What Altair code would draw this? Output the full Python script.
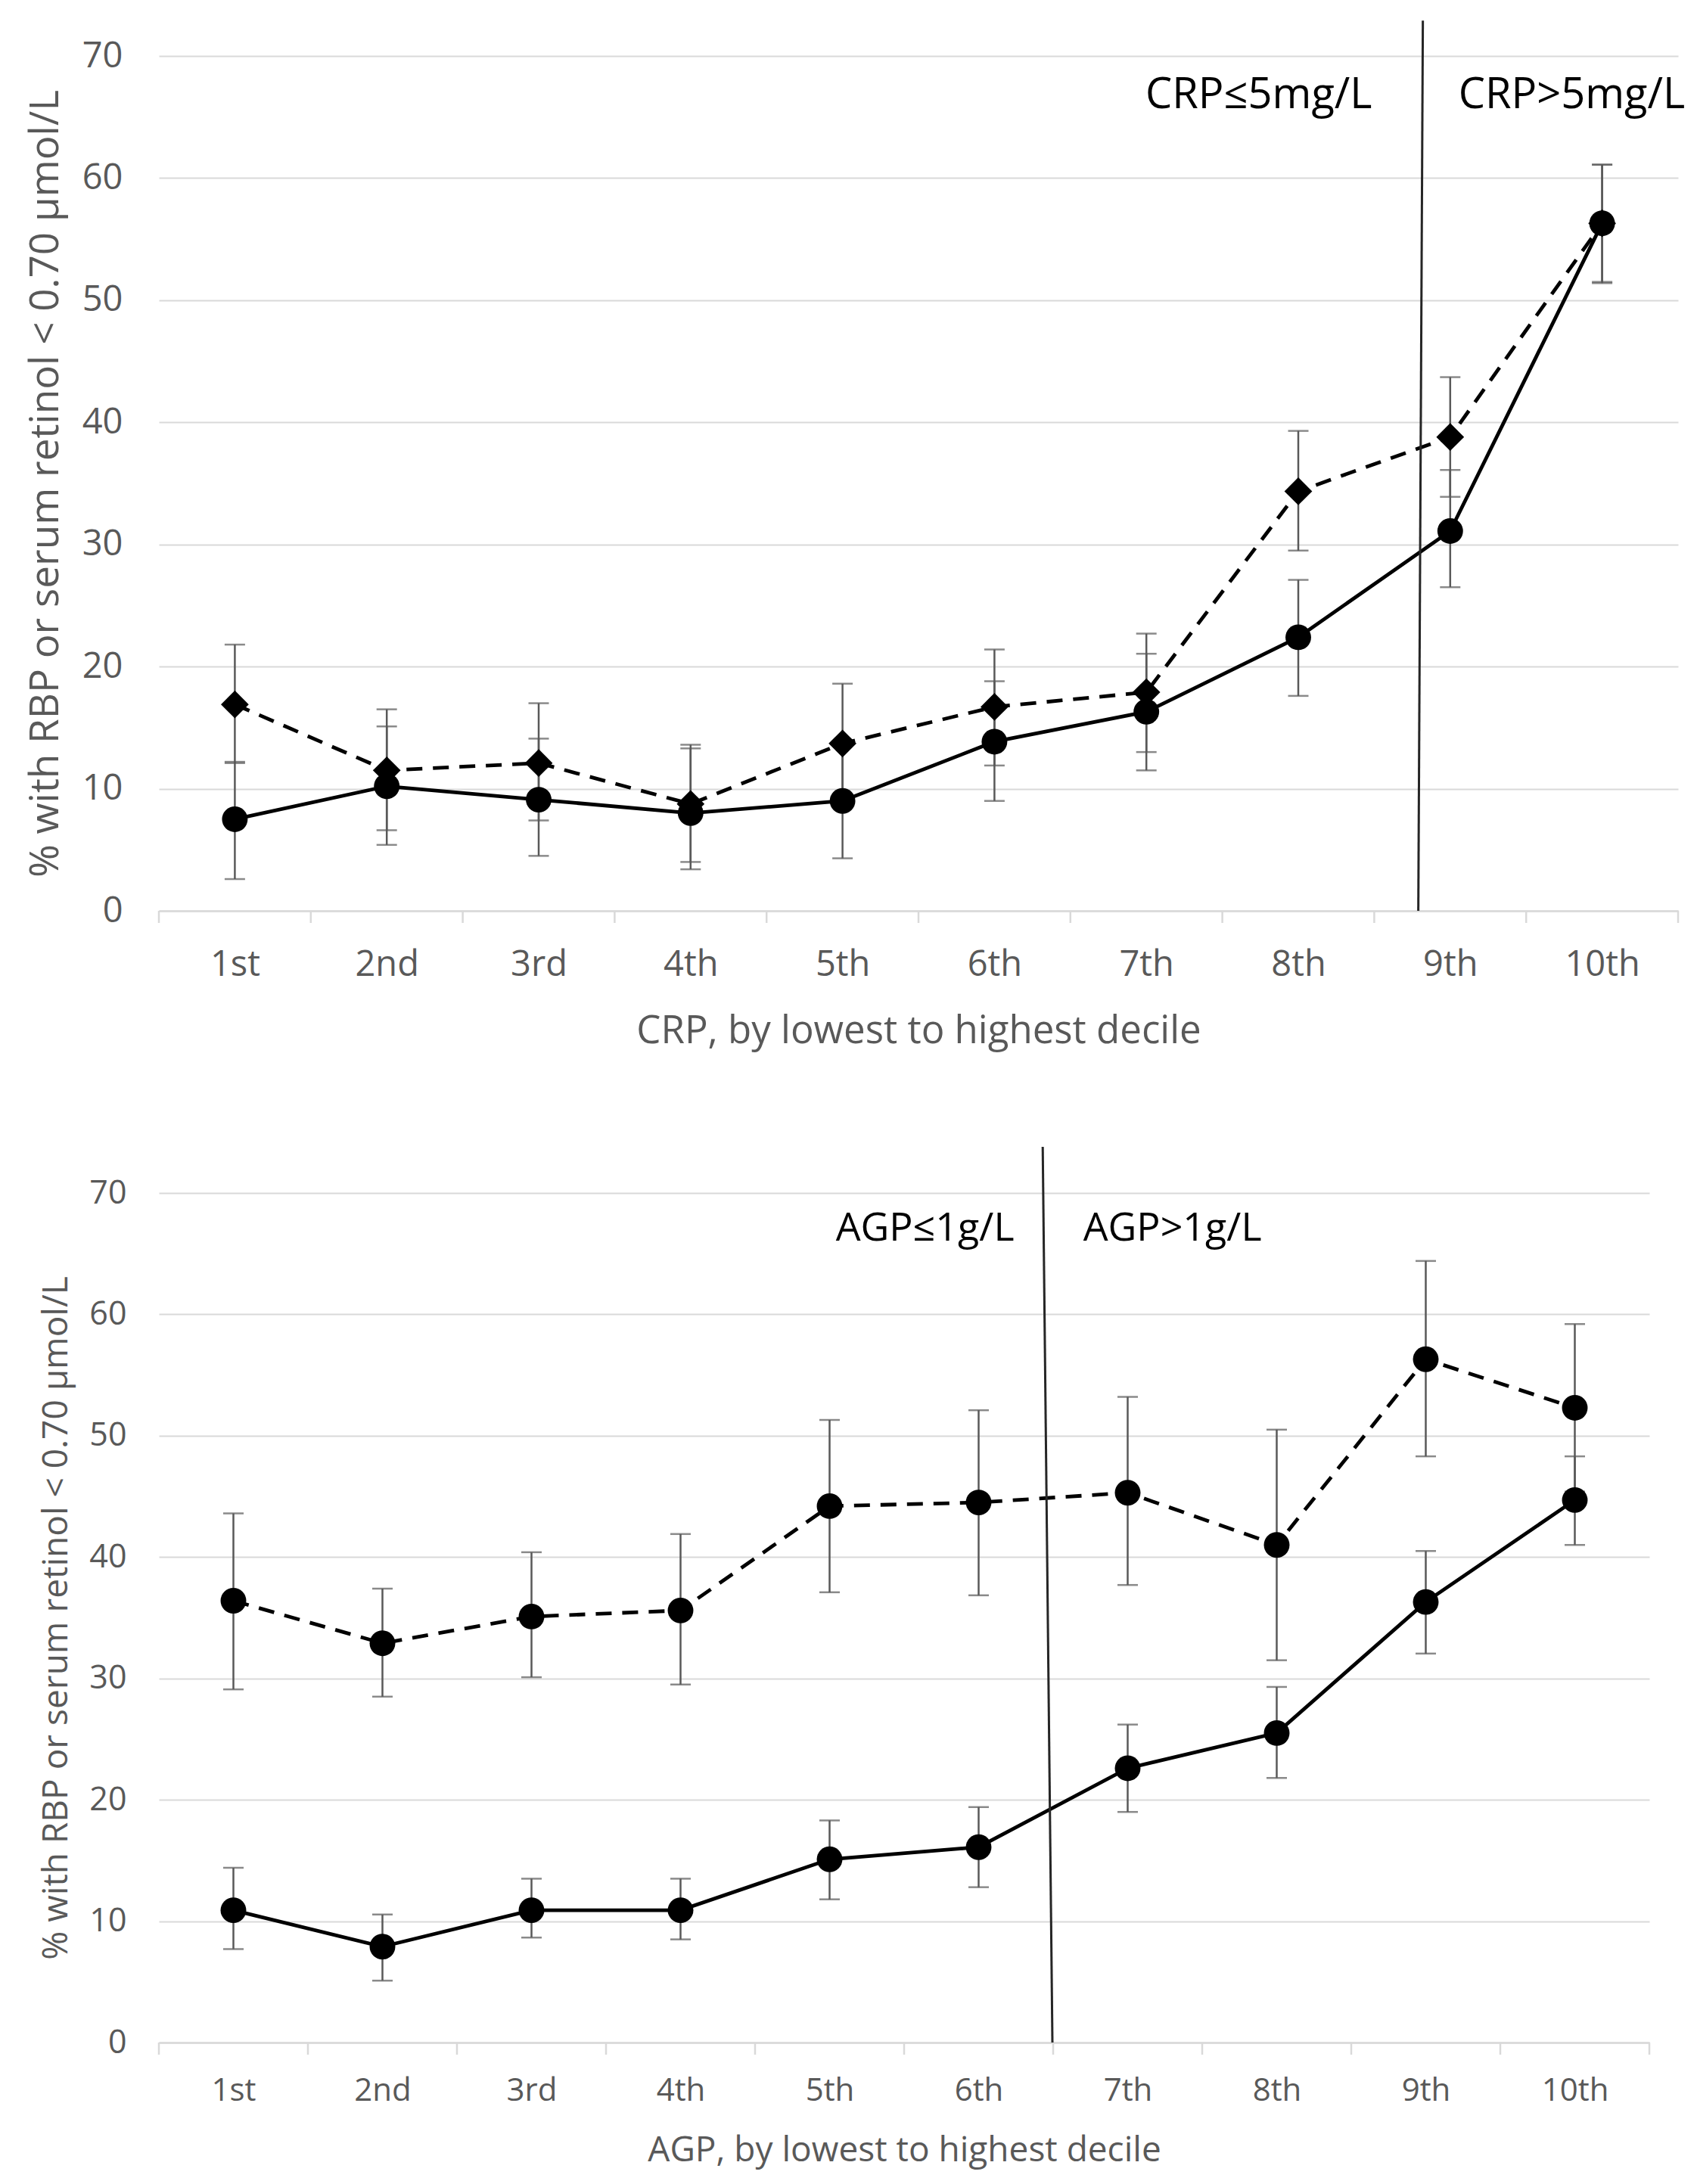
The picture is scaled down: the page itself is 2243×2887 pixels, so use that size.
import altair as alt
import pandas as pd

# ---------------- data ----------------
deciles = ["1st", "2nd", "3rd", "4th", "5th", "6th", "7th", "8th", "9th", "10th"]
rank = list(range(1, 11))
y_ticks = [0, 10, 20, 30, 40, 50, 60, 70]

# Top panel: CRP deciles
crp_solid = [7.5, 10.2, 9.1, 8.0, 9.0, 13.85, 16.3, 22.4, 31.1, 56.3]
crp_solid_lo = [2.6, 5.4, 4.5, 3.4, 4.3, 9.0, 11.5, 17.6, 26.5, 51.4]
crp_solid_hi = [12.2, 15.1, 14.1, 13.3, 13.7, 18.8, 21.05, 27.1, 36.1, 61.1]
crp_dashed = [16.9, 11.5, 12.1, 8.75, 13.7, 16.7, 17.9, 34.35, 38.8, 56.3]
crp_dashed_lo = [12.1, 6.6, 7.4, 4.0, 8.8, 11.9, 13.0, 29.5, 33.9, 51.5]
crp_dashed_hi = [21.8, 16.5, 17.0, 13.6, 18.6, 21.4, 22.7, 39.3, 43.7, 61.1]

# Bottom panel: AGP deciles
agp_solid = [10.9, 7.9, 10.9, 10.9, 15.1, 16.1, 22.6, 25.5, 36.3, 44.7]
agp_solid_lo = [7.7, 5.1, 8.65, 8.5, 11.8, 12.8, 19.0, 21.8, 32.05, 41.0]
agp_solid_hi = [14.4, 10.55, 13.5, 13.5, 18.3, 19.4, 26.2, 29.3, 40.5, 48.3]
agp_dashed = [36.4, 32.9, 35.1, 35.6, 44.2, 44.5, 45.3, 41.0, 56.3, 52.3]
agp_dashed_lo = [29.1, 28.5, 30.1, 29.5, 37.1, 36.85, 37.7, 31.5, 48.3, 45.4]
agp_dashed_hi = [43.6, 37.4, 40.4, 41.9, 51.3, 52.1, 53.2, 50.5, 64.4, 59.2]

# cut-off lines (decile units at bottom / top, value at top)
crp_cut = {"x": [8.79], "x2": [8.82], "y": [0], "y2": [72.9]}
agp_cut = {"x": [6.495], "x2": [6.43], "y": [0], "y2": [73.8]}

crp_notes = {"label": ["CRP≤5mg/L", "CRP>5mg/L"], "x": [7.74, 9.80], "y": [66.8, 66.8]}
agp_notes = {"label": ["AGP≤1g/L", "AGP>1g/L"], "x": [5.64, 7.30], "y": [67.1, 67.1]}

Y_TITLE = "% with RBP or serum retinol < 0.70 µmol/L"
GRAY = "#595959"
LIGHT = "#d9d9d9"
FONT = "Open Sans"

label_expr = "[" + ",".join(f"'{d}'" for d in deciles) + "][datum.value - 1]"
bounds = [r - 0.5 for r in rank] + [rank[-1] + 0.5]


def panel(solid, solid_lo, solid_hi, dashed, dashed_lo, dashed_hi, dashed_shape,
          cut, notes, xtitle, w, h, st):
    xs = alt.Scale(domain=[0.5, 10.5], nice=False, zero=False)
    ys = alt.Scale(domain=[0, 70], nice=False, zero=True)
    x_axis = alt.Axis(values=rank, labelExpr=label_expr, grid=False, ticks=False,
                      domain=True, domainColor=LIGHT, domainWidth=2.5,
                      labelFont=FONT, labelFontSize=st["xl"], labelColor=GRAY,
                      labelPadding=st["xlp"], labelFlush=False, labelOverlap=False,
                      minExtent=st["xext"], maxExtent=st["xext"],
                      title=xtitle, titleFont=FONT, titleFontSize=st["xt"],
                      titleFontWeight="normal", titleColor=GRAY,
                      titlePadding=st["xtp"])
    y_axis = alt.Axis(values=y_ticks, format="d", grid=True, gridColor=LIGHT,
                      gridWidth=2, domain=False, ticks=False,
                      labelFont=FONT, labelFontSize=st["yl"], labelColor=GRAY,
                      labelPadding=st["ylp"], minExtent=st["yext"], maxExtent=st["yext"],
                      title=Y_TITLE, titleFont=FONT, titleFontSize=st["yt"],
                      titleFontWeight="normal", titleColor=GRAY,
                      titlePadding=st["ytp"])

    def X(f):
        return alt.X(f"{f}:Q", scale=xs, axis=x_axis)

    def Y(f):
        return alt.Y(f"{f}:Q", scale=ys, axis=y_axis)

    ds = pd.DataFrame({"rank": rank, "value": solid, "lo": solid_lo, "hi": solid_hi})
    dd = pd.DataFrame({"rank": rank, "value": dashed, "lo": dashed_lo, "hi": dashed_hi})
    both = pd.concat([dd, ds])

    tick_df = pd.DataFrame({"b": bounds})
    ticks = alt.Chart(tick_df).mark_rule(color=LIGHT, strokeWidth=2.5).encode(
        x=X("b"), y=alt.value(h), y2=alt.value(h + 16))

    line_d = alt.Chart(dd).mark_line(color="black", strokeWidth=4.8,
                                     strokeDash=[21, 14]).encode(x=X("rank"), y=Y("value"))
    line_s = alt.Chart(ds).mark_line(color="black", strokeWidth=4.8).encode(
        x=X("rank"), y=Y("value"))

    err = alt.Chart(both).mark_rule(color=GRAY, strokeWidth=2.5).encode(
        x=X("rank"), y=Y("lo"), y2=alt.Y2("hi"))
    cap_lo = alt.Chart(both).mark_tick(color=GRAY, orient="horizontal", size=27,
                                       thickness=2.5).encode(x=X("rank"), y=Y("lo"))
    cap_hi = alt.Chart(both).mark_tick(color=GRAY, orient="horizontal", size=27,
                                       thickness=2.5).encode(x=X("rank"), y=Y("hi"))

    pts_d = alt.Chart(dd).mark_point(shape=dashed_shape, filled=True, color="black",
                                     opacity=1, size=st["dsize"]).encode(
        x=X("rank"), y=Y("value"))
    pts_s = alt.Chart(ds).mark_point(shape="circle", filled=True, color="black",
                                     opacity=1, size=1150).encode(
        x=X("rank"), y=Y("value"))

    cut_line = alt.Chart(pd.DataFrame(cut)).mark_rule(color="#262626", strokeWidth=3).encode(
        x=X("x"), x2=alt.X2("x2"), y=Y("y"), y2=alt.Y2("y2"))

    note = alt.Chart(pd.DataFrame(notes)).mark_text(
        font=FONT, fontSize=st["note"], color="black", align="center",
        baseline="middle").encode(x=X("x"), y=Y("y"), text="label:N")

    layers = [ticks, line_d, line_s, err, cap_lo, cap_hi, pts_d, pts_s, cut_line, note]
    if st.get("pad_left"):
        ghost = alt.Chart(pd.DataFrame({"g": [0]})).mark_rule(strokeOpacity=0).encode(
            x=alt.value(-st["pad_left"]), x2=alt.value(-st["pad_left"] + 1),
            y=alt.value(0))
        layers.append(ghost)
    return alt.layer(*layers).properties(width=w, height=h)


top_style = {"xl": 47, "xlp": 48, "xext": 95, "xt": 51, "xtp": 39,
             "yl": 47, "ylp": 48, "yext": 102, "yt": 53, "ytp": 21,
             "note": 56, "dsize": 1350}
bot_style = {"xl": 42, "xlp": 43, "xext": 85, "xt": 46, "xtp": 35,
             "yl": 43, "ylp": 43, "yext": 92, "yt": 46, "ytp": 20,
             "note": 52, "dsize": 1150, "pad_left": 181}

top = panel(crp_solid, crp_solid_lo, crp_solid_hi, crp_dashed, crp_dashed_lo,
            crp_dashed_hi, "diamond", crp_cut, crp_notes,
            "CRP, by lowest to highest decile", 2008, 1130, top_style)
bottom = panel(agp_solid, agp_solid_lo, agp_solid_hi, agp_dashed, agp_dashed_lo,
               agp_dashed_hi, "circle", agp_cut, agp_notes,
               "AGP, by lowest to highest decile", 1970, 1123, bot_style)

chart = alt.vconcat(top, bottom, spacing=126).properties(
    padding={"left": 21, "top": 17, "right": 5, "bottom": 5}
).configure(background="white").configure_view(stroke=None)

chart.save("out.html", embed_options={"renderer": "svg", "actions": False})
